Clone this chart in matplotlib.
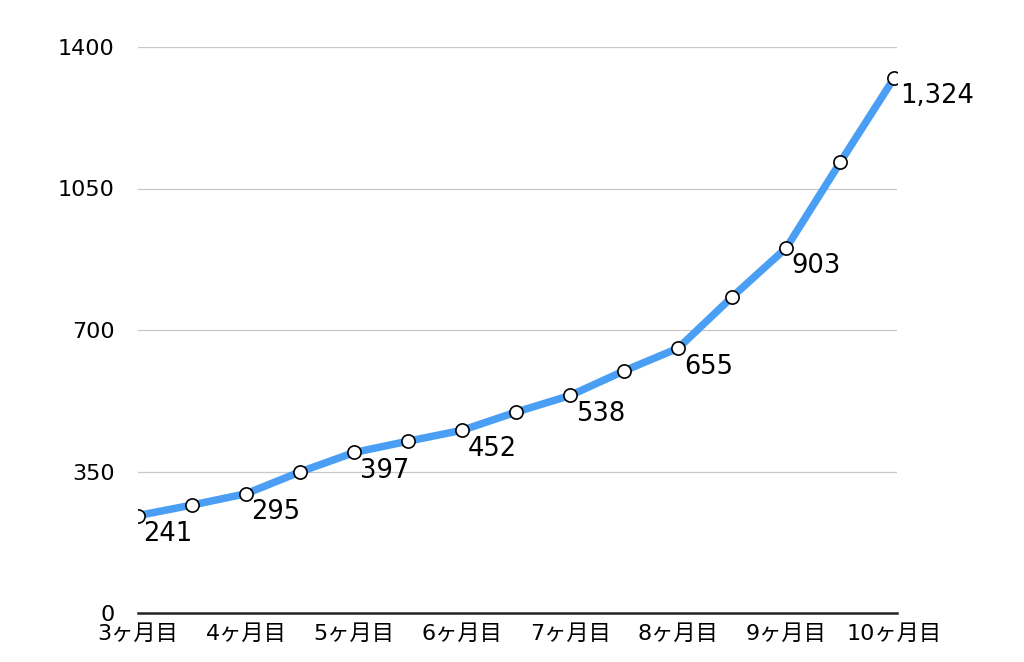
import matplotlib
matplotlib.use('Agg')
import matplotlib.pyplot as plt
import numpy as np

plt.rcParams['font.family'] = ['DejaVu Sans', 'Noto Sans CJK JP']

# half-month steps from month 3 to month 10
month_labels = ['3ヶ月目', '4ヶ月目', '5ヶ月目', '6ヶ月目', '7ヶ月目', '8ヶ月目', '9ヶ月目', '10ヶ月目']
values = [241, 267, 295, 349, 397, 425, 452, 497, 538, 599, 655, 782, 903, 1115, 1324]
labelled = [0, 2, 4, 6, 8, 10, 12, 14]
yticks = [0, 350, 700, 1050, 1400]

x = np.arange(len(values))

fig = plt.figure(figsize=(10.24, 6.62), dpi=100)
ax = fig.add_axes([138/1024, 1-613/662, (897-138)/1024, (613-47)/662])

ax.plot(x, values, color='#4A9FF5', lw=5.4, solid_capstyle='butt', zorder=3)
ax.plot(x, values, ls='none', marker='o', ms=9.5, mfc='white', mec='black', mew=1.2, zorder=4)

for i in labelled:
    v = values[i]
    ax.annotate(f'{v:,}', (x[i], v), xytext=(4, -4), textcoords='offset points',
                ha='left', va='top', fontsize=18.5, color='black', zorder=5)

ax.set_xlim(0, 14.05)
ax.set_ylim(0, 1400)
ax.set_yticks(yticks)
ax.set_yticklabels([str(t) for t in yticks], fontsize=16)
ax.set_xticks(x[::2])
ax.set_xticklabels(month_labels, fontsize=16)
ax.tick_params(axis='both', length=0)
ax.tick_params(axis='y', pad=17)
ax.tick_params(axis='x', pad=8)

for t in yticks[1:]:
    ax.axhline(t, color='#c8c8c8', lw=0.9, zorder=1)

for s in ['top', 'right', 'left']:
    ax.spines[s].set_visible(False)
ax.spines['bottom'].set_linewidth(1.8)
ax.spines['bottom'].set_color('#222222')

fig.savefig('out.png', dpi=100)
